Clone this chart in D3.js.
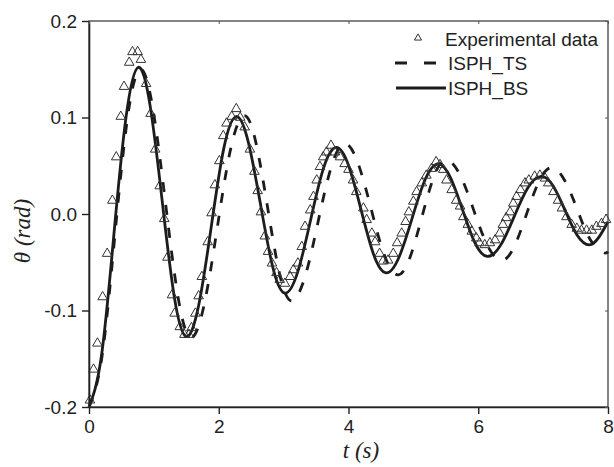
<!DOCTYPE html>
<html>
<head>
<meta charset="utf-8">
<script src="https://cdn.jsdelivr.net/npm/d3@7"></script>
<style>
  html, body { margin: 0; padding: 0; background: #fff; }
  svg { display: block; }
</style>
</head>
<body>
<svg id="chart" width="614" height="467"></svg>
<script>
// ---------------- data ----------------
const xTicks = [0, 2, 4, 6, 8];
const xTickLabels = ["0", "2", "4", "6", "8"];
const yTicks = [-0.2, -0.1, 0.0, 0.1, 0.2];
const yTickLabels = ["-0.2", "-0.1", "0.0", "0.1", "0.2"];

const seriesNames = ["Experimental data", "ISPH_TS", "ISPH_BS"];

// Experimental data (t in s, theta in rad)
const expT = [0.015, 0.07, 0.13, 0.21, 0.28, 0.36, 0.42, 0.49, 0.54, 0.62, 0.67, 0.75, 0.80, 0.88, 0.95,
  1.02, 1.09, 1.16, 1.21, 1.28, 1.32, 1.40, 1.47, 1.54, 1.58, 1.64, 1.69, 1.74, 1.83, 1.89,
  1.94, 2.01, 2.07, 2.12, 2.20, 2.27, 2.33, 2.40, 2.48, 2.55, 2.60, 2.65, 2.71, 2.76, 2.82,
  2.89, 2.94, 3.02, 3.10, 3.15, 3.22, 3.28, 3.33, 3.41, 3.46, 3.51, 3.56, 3.61, 3.66, 3.73,
  3.79, 3.87, 3.94, 4.00, 4.07, 4.12, 4.23, 4.28, 4.36, 4.41, 4.48, 4.53, 4.61, 4.69, 4.75,
  4.82, 4.88, 4.93, 5.00, 5.05, 5.13, 5.20, 5.28, 5.35, 5.41, 5.46, 5.51, 5.59, 5.66, 5.72,
  5.77, 5.84, 5.90, 5.97, 6.02, 6.10, 6.18, 6.26, 6.33, 6.38, 6.43, 6.49, 6.54, 6.59, 6.65,
  6.72, 6.78, 6.87, 6.95, 7.03, 7.08, 7.16, 7.23, 7.29, 7.36, 7.44, 7.52, 7.59, 7.67, 7.75,
  7.82, 7.90, 7.97];
const expY = [-0.193, -0.161, -0.134, -0.086, -0.041, 0.014, 0.059, 0.101, 0.132, 0.157, 0.168, 0.168, 0.160, 0.135, 0.104,
  0.067, 0.029, -0.005, -0.045, -0.084, -0.103, -0.117, -0.125, -0.125, -0.118, -0.103, -0.085, -0.065, -0.029, 0.001,
  0.030, 0.055, 0.081, 0.094, 0.101, 0.109, 0.100, 0.090, 0.067, 0.044, 0.024, 0.002, -0.023, -0.039, -0.051,
  -0.061, -0.068, -0.072, -0.065, -0.058, -0.051, -0.034, -0.013, 0.004, 0.018, 0.035, 0.049, 0.059, 0.064, 0.071,
  0.064, 0.059, 0.052, 0.046, 0.035, 0.023, 0.006, -0.006, -0.020, -0.029, -0.041, -0.049, -0.048, -0.041, -0.030,
  -0.020, -0.008, 0.002, 0.013, 0.023, 0.032, 0.040, 0.047, 0.054, 0.051, 0.046, 0.035, 0.025, 0.014, 0.008,
  -0.003, -0.011, -0.018, -0.025, -0.030, -0.032, -0.030, -0.027, -0.020, -0.011, -0.004, 0.002, 0.011, 0.018, 0.025,
  0.032, 0.035, 0.039, 0.040, 0.037, 0.032, 0.023, 0.014, 0.006, -0.003, -0.011, -0.015, -0.017, -0.017, -0.017,
  -0.013, -0.010, -0.006];

// ISPH_TS (dashed)
const tsT = [0, 0.1975, 0.395, 0.5925, 0.79, 0.985, 1.18, 1.375, 1.57, 1.775, 1.98, 2.185, 2.39,
  2.5725, 2.755, 2.9375, 3.12, 3.325, 3.53, 3.735, 3.94, 4.145, 4.35, 4.555, 4.76,
  4.945, 5.13, 5.315, 5.50, 5.715, 5.93, 6.145, 6.36, 6.5525, 6.745, 6.9375, 7.13,
  7.33, 7.53, 7.73, 7.93, 8.0];
const tsY = [-0.200, -0.149, -0.025, 0.099, 0.150, 0.109, 0.011, -0.087, -0.128, -0.094, -0.013, 0.068, 0.102,
  0.074, 0.006, -0.062, -0.090, -0.066, -0.0085, 0.049, 0.073, 0.053, 0.005, -0.043, -0.063,
  -0.0455, -0.0035, 0.0385, 0.056, 0.041, 0.004, -0.033, -0.048, -0.034, 0.000, 0.034, 0.048,
  0.035, 0.004, -0.027, -0.040, -0.039];

// ISPH_BS (solid)
const bsT = [0, 0.19, 0.38, 0.57, 0.76, 0.945, 1.13, 1.315, 1.50, 1.6925, 1.885, 2.0775, 2.27,
  2.4575, 2.645, 2.8325, 3.02, 3.2175, 3.415, 3.6125, 3.81, 4.0025, 4.195, 4.3875, 4.58,
  4.78, 4.98, 5.18, 5.38, 5.57, 5.76, 5.95, 6.14, 6.3475, 6.555, 6.7625, 6.97,
  7.155, 7.34, 7.525, 7.71, 7.86, 8.0];
const bsY = [-0.200, -0.148, -0.024, 0.100, 0.152, 0.111, 0.0125, -0.086, -0.127, -0.094, -0.013, 0.068, 0.101,
  0.074, 0.0095, -0.055, -0.082, -0.060, -0.0065, 0.047, 0.069, 0.050, 0.004, -0.042, -0.061,
  -0.0445, -0.0045, 0.0355, 0.052, 0.038, 0.004, -0.030, -0.044, -0.032, -0.0025, 0.027, 0.039,
  0.029, 0.0035, -0.022, -0.032, -0.024, -0.008];

// ---------------- chart ----------------
const W = 614, H = 467;
const plot = { left: 89, right: 608, top: 21, bottom: 407 };
const ink = "#1c1c1c";

const svg = d3.select("#chart");
const x = d3.scaleLinear().domain([0, 8]).range([plot.left, plot.right]);
const y = d3.scaleLinear().domain([-0.2, 0.2]).range([plot.bottom, plot.top]);

const sans = "'Liberation Sans', Arial, Helvetica, sans-serif";
const serif = "'Liberation Serif', 'Times New Roman', serif";

// curves
const lineGen = (T, Y) => d3.line()
  .x((d, i) => x(T[i]))
  .y((d, i) => y(Y[i]))
  .curve(d3.curveNatural)(T);

svg.append("path")
  .attr("d", lineGen(tsT, tsY))
  .attr("fill", "none")
  .attr("stroke", ink)
  .attr("stroke-width", 2.8)
  .attr("stroke-dasharray", "10,13");

svg.append("path")
  .attr("d", lineGen(bsT, bsY))
  .attr("fill", "none")
  .attr("stroke", ink)
  .attr("stroke-width", 2.8);

// experimental triangles
const tri = d3.symbol().type(d3.symbolTriangle).size(40);
svg.append("g").selectAll("path")
  .data(expT)
  .join("path")
  .attr("d", tri)
  .attr("transform", (d, i) => `translate(${x(expT[i])},${y(expY[i])})`)
  .attr("fill", "none")
  .attr("stroke", "#333")
  .attr("stroke-width", 1);

// frame
svg.append("rect")
  .attr("x", plot.left).attr("y", plot.top)
  .attr("width", plot.right - plot.left).attr("height", plot.bottom - plot.top)
  .attr("fill", "none").attr("stroke", "#333").attr("stroke-width", 1.2);

// axes
const xAxis = d3.axisBottom(x).tickValues(xTicks)
  .tickFormat((d, i) => xTickLabels[i]).tickSizeInner(7).tickSizeOuter(0).tickPadding(6);
const yAxis = d3.axisLeft(y).tickValues(yTicks)
  .tickFormat((d, i) => yTickLabels[i]).tickSizeInner(7).tickSizeOuter(0).tickPadding(5);

const gx = svg.append("g").attr("transform", `translate(0,${plot.bottom})`).call(xAxis);
const gy = svg.append("g").attr("transform", `translate(${plot.left},0)`).call(yAxis);
[gx, gy].forEach(g => {
  g.select(".domain").attr("stroke", "#222").attr("stroke-width", 1.6);
  g.selectAll(".tick line").attr("stroke", "#222").attr("stroke-width", 1.4);
  g.selectAll(".tick text").attr("fill", "#222")
    .style("font-family", sans).style("font-size", "19px");
});

// small inner ticks on top and right
const gxt = svg.append("g").attr("transform", `translate(0,${plot.top})`)
  .call(d3.axisTop(x).tickValues(xTicks).tickSize(-3).tickFormat(""));
const gyr = svg.append("g").attr("transform", `translate(${plot.right},0)`)
  .call(d3.axisRight(y).tickValues(yTicks).tickSize(-3).tickFormat(""));
[gxt, gyr].forEach(g => {
  g.select(".domain").remove();
  g.selectAll(".tick line").attr("stroke", "#555").attr("stroke-width", 1);
});

// axis titles
svg.append("text")
  .attr("x", 361).attr("y", 458)
  .attr("text-anchor", "middle")
  .style("font-family", serif).style("font-size", "23px").style("font-style", "italic")
  .attr("fill", "#222")
  .text("t (s)");

svg.append("text")
  .attr("transform", "translate(30,231) rotate(-90)")
  .attr("text-anchor", "middle")
  .style("font-family", serif).style("font-size", "23px").style("font-style", "italic")
  .attr("fill", "#222")
  .text("θ (rad)");

// legend
const lg = svg.append("g");
lg.append("path")
  .attr("d", d3.symbol().type(d3.symbolTriangle).size(22)())
  .attr("transform", "translate(418,38)")
  .attr("fill", "none").attr("stroke", "#333").attr("stroke-width", 1);
lg.append("text").attr("x", 445).attr("y", 46).text(seriesNames[0]);

lg.append("line").attr("x1", 395).attr("x2", 436).attr("y1", 63).attr("y2", 63)
  .attr("stroke", ink).attr("stroke-width", 3).attr("stroke-dasharray", "12,17");
lg.append("text").attr("x", 448).attr("y", 70).text(seriesNames[1]);

lg.append("line").attr("x1", 396).attr("x2", 446).attr("y1", 88).attr("y2", 88)
  .attr("stroke", ink).attr("stroke-width", 3);
lg.append("text").attr("x", 448).attr("y", 95).text(seriesNames[2]);

lg.selectAll("text").style("font-family", sans).style("font-size", "19px").attr("fill", "#222");
</script>
</body>
</html>
